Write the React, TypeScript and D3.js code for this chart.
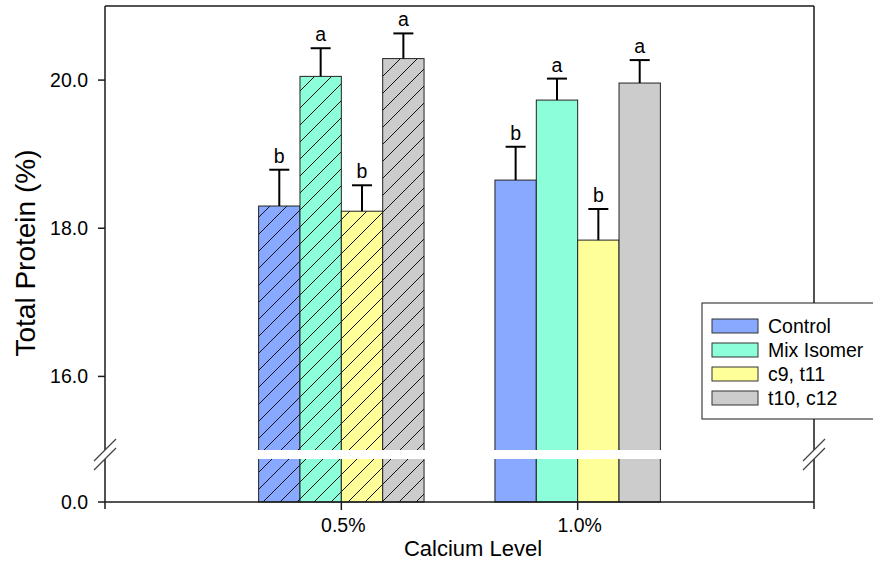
import React from "react";
import * as d3 from "d3";

const categories = ["0.5%", "1.0%"];
const seriesNames = ["Control", "Mix Isomer", "c9, t11", "t10, c12"];
const seriesColors = ["#88a9ff", "#8cffda", "#ffff99", "#cccccc"];
const control = [18.3, 18.65];
const mixIsomer = [20.05, 19.73];
const c9t11 = [18.23, 17.84];
const t10c12 = [20.29, 19.96];
const controlErr = [0.49, 0.45];
const mixIsomerErr = [0.38, 0.29];
const c9t11Err = [0.35, 0.42];
const t10c12Err = [0.34, 0.31];
const controlSig = ["b", "b"];
const mixIsomerSig = ["a", "a"];
const c9t11Sig = ["b", "b"];
const t10c12Sig = ["a", "a"];
const hatchedGroups = [true, false];
const upperTicks = [16, 18, 20];
const lowerTicks = [0];
const xTitle = "Calcium Level";
const yTitle = "Total Protein (%)";

const values = [control, mixIsomer, c9t11, t10c12];
const errors = [controlErr, mixIsomerErr, c9t11Err, t10c12Err];
const sigs = [controlSig, mixIsomerSig, c9t11Sig, t10c12Sig];

const W = 873;
const H = 561;
const left = 105;
const right = 814;
const top = 6;
const bottom = 502;
const breakTop = 450;
const breakBot = 459;
const FONT = "'Liberation Sans', Arial, Helvetica, sans-serif";
const HS = 17;

export default function App() {
  const x = d3.scaleLinear().domain([0, categories.length + 1]).range([left, right]);
  const step = x(1) - x(0);
  const inner = d3
    .scaleBand<string>()
    .domain(seriesNames)
    .range([-0.35 * step, 0.35 * step]);
  const yU = d3.scaleLinear().domain([15, 21]).range([breakTop + 0.5, top]);
  const yL = d3.scaleLinear().domain([0, 1]).range([bottom, breakBot]);
  const bw = inner.bandwidth();
  const axisColor = "#1a1a1a";

  const breakMarks = (cx: number) => (
    <g>
      <line x1={cx - 11} y1={breakTop + 11} x2={cx + 11} y2={breakTop - 11} stroke="#444" strokeWidth={1.2} />
      <line x1={cx - 11} y1={breakBot + 11} x2={cx + 11} y2={breakBot - 11} stroke="#444" strokeWidth={1.2} />
    </g>
  );

  return (
    <svg
      width={W}
      height={H}
      style={{ position: "absolute", left: 0, top: 0, background: "#fff" }}
      fontFamily={FONT}
    >
      <defs>
        {seriesColors.map((c, i) => (
          <pattern key={i} id={`hatch${i}`} patternUnits="userSpaceOnUse" width={HS} height={HS}>
            <rect width={HS} height={HS} fill={c} />
            <path
              d={`M0,${HS} L${HS},0 M-3,3 L3,-3 M${HS - 3},${HS + 3} L${HS + 3},${HS - 3}`}
              stroke="#111"
              strokeWidth={1}
            />
          </pattern>
        ))}
      </defs>
      <rect x={0} y={0} width={W} height={H} fill="#fff" />

      {/* bars */}
      {categories.map((cat, ci) => (
        <g key={cat}>
          {seriesNames.map((s, si) => {
            const v = values[si][ci];
            const bx = x(ci + 1) + (inner(s) as number);
            const yTop = yU(v);
            return (
              <rect
                key={s}
                x={bx}
                y={yTop}
                width={bw}
                height={bottom - yTop}
                fill={hatchedGroups[ci] ? `url(#hatch${si})` : seriesColors[si]}
                stroke="#222"
                strokeWidth={1}
              />
            );
          })}
        </g>
      ))}

      {/* break gap */}
      <rect x={left - 2} y={breakTop} width={right - left + 4} height={breakBot - breakTop} fill="#fff" />

      {/* error bars and letters */}
      {categories.map((cat, ci) => (
        <g key={cat + "e"}>
          {seriesNames.map((s, si) => {
            const v = values[si][ci];
            const e = errors[si][ci];
            const cx = x(ci + 1) + (inner(s) as number) + bw / 2;
            const y1 = yU(v);
            const y2 = yU(v + e);
            return (
              <g key={s}>
                <line x1={cx} x2={cx} y1={y1} y2={y2} stroke="#000" strokeWidth={2} />
                <line x1={cx - 10} x2={cx + 10} y1={y2} y2={y2} stroke="#000" strokeWidth={2} />
                <text x={cx} y={y2 - 7} textAnchor="middle" fontSize={19.5} fill="#000">
                  {sigs[si][ci]}
                </text>
              </g>
            );
          })}
        </g>
      ))}

      {/* frame */}
      <line x1={left} x2={right} y1={top} y2={top} stroke={axisColor} strokeWidth={1.5} />
      <line x1={left - 7} x2={right} y1={bottom} y2={bottom} stroke={axisColor} strokeWidth={1.5} />
      <line x1={left} x2={left} y1={top} y2={breakTop} stroke={axisColor} strokeWidth={1.5} />
      <line x1={left} x2={left} y1={breakBot} y2={bottom + 7} stroke={axisColor} strokeWidth={1.5} />
      <line x1={right} x2={right} y1={top} y2={breakTop} stroke={axisColor} strokeWidth={1.5} />
      <line x1={right} x2={right} y1={breakBot} y2={bottom + 7} stroke={axisColor} strokeWidth={1.5} />
      {breakMarks(left)}
      {breakMarks(right)}

      {/* y ticks */}
      {upperTicks.map((t) => (
        <g key={t}>
          <line x1={left - 7} x2={left} y1={yU(t)} y2={yU(t)} stroke={axisColor} strokeWidth={1.5} />
          <text x={left - 17} y={yU(t) + 7} textAnchor="end" fontSize={19.5} fill="#000">
            {d3.format(".1f")(t)}
          </text>
        </g>
      ))}
      {lowerTicks.map((t) => (
        <g key={"l" + t}>
          <text x={left - 17} y={yL(t) + 7} textAnchor="end" fontSize={19.5} fill="#000">
            {d3.format(".1f")(t)}
          </text>
        </g>
      ))}

      {/* x ticks */}
      {categories.map((cat, ci) => (
        <g key={cat + "t"}>
          <line x1={x(ci + 1)} x2={x(ci + 1)} y1={bottom} y2={bottom + 8} stroke={axisColor} strokeWidth={1.5} />
          <text x={x(ci + 1) + 2} y={532} textAnchor="middle" fontSize={19.5} fill="#000">
            {cat}
          </text>
        </g>
      ))}

      {/* titles */}
      <text x={473} y={556} textAnchor="middle" fontSize={22} fill="#000">
        {xTitle}
      </text>
      <text
        transform={`translate(35, 253) rotate(-90)`}
        textAnchor="middle"
        fontSize={28}
        fill="#000"
      >
        {yTitle}
      </text>

      {/* legend */}
      <g>
        <rect x={702} y={303} width={180} height={116} fill="#fff" stroke={axisColor} strokeWidth={1} />
        {seriesNames.map((s, i) => (
          <g key={s} transform={`translate(712, ${326 + i * 24})`}>
            <rect x={0} y={-7} width={46} height={14} fill={seriesColors[i]} stroke="#333" strokeWidth={1} />
            <text x={56} y={7} fontSize={19.5} fill="#000">
              {s}
            </text>
          </g>
        ))}
      </g>
    </svg>
  );
}
